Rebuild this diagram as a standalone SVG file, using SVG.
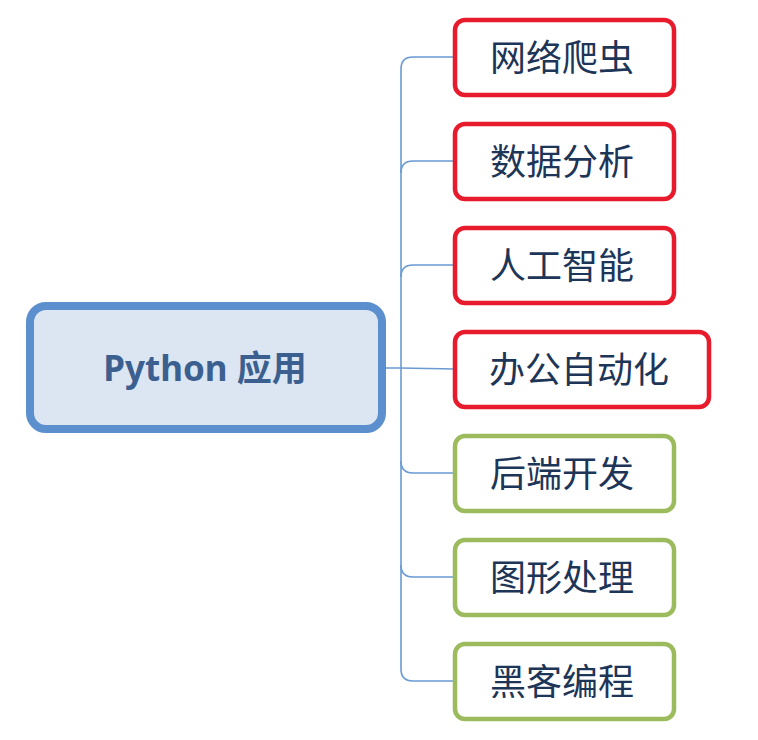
<svg xmlns="http://www.w3.org/2000/svg" width="758" height="740" viewBox="0 0 758 740">
<style>
.c{fill:none;stroke:#6a9ad2;stroke-width:1.6}
.root{fill:#dce6f2;stroke:#5b8fce;stroke-width:8}
.red{fill:#fff;stroke:#e81b2d;stroke-width:4.5}
.grn{fill:#fff;stroke:#9bbb5d;stroke-width:4.5}
.t{font-family:"Noto Sans CJK SC","Noto Sans",sans-serif;font-size:36px;fill:#1d3557;text-anchor:middle;dominant-baseline:central}
.rt{font-family:"Noto Sans","Noto Sans CJK SC",sans-serif;font-size:35px;font-weight:bold;fill:#3b6090;text-anchor:middle;dominant-baseline:central}
</style>
<rect width="758" height="740" fill="#fff"/>
<g id="connectors">
<path class="c" d="M386,368 L401,368 Q413,368 453,369"/>
<path class="c" d="M401,669 L401,69"/>
<path class="c" d="M401,69 Q401,57 413,57 L453,57"/>
<path class="c" d="M401,173 Q401,161 413,161 L453,161"/>
<path class="c" d="M401,277 Q401,265 413,265 L453,265"/>
<path class="c" d="M401,461 Q401,473 413,473 L453,473"/>
<path class="c" d="M401,565 Q401,577 413,577 L453,577"/>
<path class="c" d="M401,669 Q401,681 413,681 L453,681"/>
</g>
<g id="root"><rect class="root" x="30" y="306" width="352" height="123" rx="16"/><text class="rt" x="205" y="367">Python 应用</text></g>
<g id="n1"><rect class="red" x="455" y="20" width="219" height="75" rx="10"/><text class="t" x="562" y="55">网络爬虫</text></g>
<g id="n2"><rect class="red" x="455" y="124" width="219" height="75" rx="10"/><text class="t" x="562" y="159">数据分析</text></g>
<g id="n3"><rect class="red" x="455" y="228" width="219" height="75" rx="10"/><text class="t" x="562" y="263">人工智能</text></g>
<g id="n4"><rect class="red" x="455" y="332" width="254" height="75" rx="10"/><text class="t" x="579" y="367">办公自动化</text></g>
<g id="n5"><rect class="grn" x="455" y="436" width="219" height="75" rx="10"/><text class="t" x="562" y="471">后端开发</text></g>
<g id="n6"><rect class="grn" x="455" y="540" width="219" height="75" rx="10"/><text class="t" x="562" y="575">图形处理</text></g>
<g id="n7"><rect class="grn" x="455" y="644" width="219" height="75" rx="10"/><text class="t" x="562" y="679">黑客编程</text></g>
</svg>
